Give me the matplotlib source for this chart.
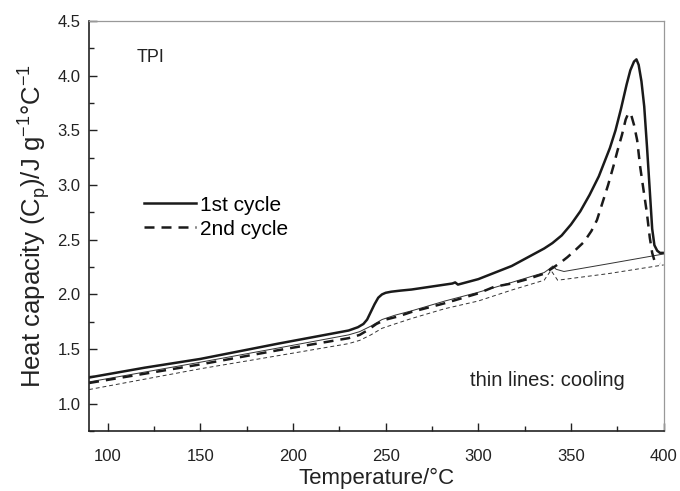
import matplotlib
matplotlib.use("Agg")
import matplotlib.pyplot as plt
from matplotlib.ticker import MultipleLocator

plt.rcParams['font.family'] = ['Liberation Sans', 'DejaVu Sans']

# 1st cycle, heating (thick solid)
t_heat1 = [90, 120, 150, 192, 230, 235, 238, 240, 242, 244, 246, 248, 250, 253, 258, 264,
           282, 286, 287.5, 289, 300, 318, 335.5, 340, 345, 350, 355, 360, 365, 368, 371,
           374, 377, 380, 382, 384, 385.3, 386.5, 388, 389.5, 391, 392.5, 393.8, 395,
           396.5, 398, 400]
cp_heat1 = [1.24, 1.33, 1.41, 1.55, 1.67, 1.70, 1.73, 1.77, 1.84, 1.91, 1.97, 2.00, 2.015, 2.025, 2.035, 2.045,
            2.09, 2.10, 2.11, 2.09, 2.14, 2.26, 2.42, 2.47, 2.54, 2.64, 2.76, 2.91, 3.08, 3.21, 3.34,
            3.50, 3.70, 3.92, 4.05, 4.13, 4.15, 4.10, 3.95, 3.72, 3.35, 2.95, 2.60, 2.45,
            2.40, 2.38, 2.38]

# 2nd cycle, heating (thick dashed)
t_heat2 = [90, 150, 192, 230, 236, 240, 245, 250, 257, 264, 282, 300, 308.6, 318, 326.5,
           335.5, 340.8, 345, 348, 352, 357, 361, 364, 367, 370, 373, 375, 377.5, 379.5,
           381, 382.5, 384, 385.7, 387.3, 389, 390.9, 392.5, 393.8, 395, 396.5, 398]
cp_heat2 = [1.19, 1.36, 1.49, 1.60, 1.63, 1.67, 1.73, 1.77, 1.80, 1.84, 1.92, 2.01, 2.07, 2.10, 2.14,
            2.19, 2.25, 2.30, 2.34, 2.40, 2.48, 2.58, 2.68, 2.84, 3.00, 3.18, 3.31, 3.46, 3.60,
            3.66, 3.64, 3.55, 3.41, 3.17, 2.97, 2.75, 2.52, 2.38, 2.31, 2.29, 2.28]

# 1st cycle, cooling (thin solid)
t_cool1 = [90, 150, 192, 230, 236, 242, 248, 255, 264, 282, 300, 318, 335.5, 338, 340.2,
           342, 346.2, 370, 400]
cp_cool1 = [1.20, 1.38, 1.51, 1.63, 1.66, 1.71, 1.77, 1.81, 1.85, 1.94, 2.02, 2.11, 2.20, 2.23, 2.26,
            2.23, 2.21, 2.28, 2.37]

# 2nd cycle, cooling (thin dashed)
t_cool2 = [90, 150, 192, 230, 236, 242, 248, 255, 264, 282, 300, 318, 335.5, 339.2, 342.8,
           370, 400]
cp_cool2 = [1.13, 1.32, 1.44, 1.55, 1.58, 1.63, 1.69, 1.73, 1.78, 1.87, 1.94, 2.04, 2.13, 2.22, 2.13,
            2.19, 2.27]

fig = plt.figure(figsize=(6.8, 4.91), dpi=100)
ax = fig.add_axes([0.131, 0.122, 0.845, 0.835])

ax.plot(t_cool1, cp_cool1, color='#333333', lw=0.7)
ax.plot(t_cool2, cp_cool2, color='#333333', lw=0.7, dashes=(4, 3))
l1, = ax.plot(t_heat1, cp_heat1, color='#1a1a1a', lw=1.8, label='1st cycle')
l2, = ax.plot(t_heat2, cp_heat2, color='#1a1a1a', lw=1.8, dashes=(4, 2.8), label='2nd cycle')

ax.set_xlim(90, 400)
ax.set_ylim(0.75, 4.5)
ax.xaxis.set_major_locator(MultipleLocator(50))
ax.xaxis.set_minor_locator(MultipleLocator(25))
ax.yaxis.set_major_locator(MultipleLocator(0.5))
ax.yaxis.set_minor_locator(MultipleLocator(0.25))
ax.yaxis.set_major_formatter('{x:.1f}')
ax.tick_params(which='both', direction='in', top=False, right=False, labelsize=12, colors='#222222')
ax.tick_params(which='major', length=6, width=1)
ax.tick_params(which='minor', length=3.5, width=1)
ax.tick_params(axis='x', pad=13)
ax.tick_params(axis='y', pad=6)

for side in ['left', 'bottom']:
    ax.spines[side].set_linewidth(1.2)
    ax.spines[side].set_color('#222222')
for side in ['top', 'right']:
    ax.spines[side].set_linewidth(0.9)
    ax.spines[side].set_color('#999999')

ax.set_xlabel('Temperature/°C', fontsize=16, labelpad=3, color='#222222')
ax.set_ylabel('Heat capacity (C$_\\mathregular{p}$)/J g$^{\\mathregular{-1}}$°C$^{\\mathregular{-1}}$',
              fontsize=18.5, labelpad=4, color='#222222')

ax.text(0.083, 0.90, 'TPI', transform=ax.transAxes, fontsize=13, color='#222222')
ax.text(0.663, 0.11, 'thin lines: cooling', transform=ax.transAxes, fontsize=14.5, color='#222222')

ax.legend(handles=[l1, l2], loc='upper left', bbox_to_anchor=(0.078, 0.6), frameon=False,
          fontsize=15, handlelength=2.5, handletextpad=0.15, labelspacing=0.25, borderpad=0)

fig.savefig('out.png', dpi=100)
